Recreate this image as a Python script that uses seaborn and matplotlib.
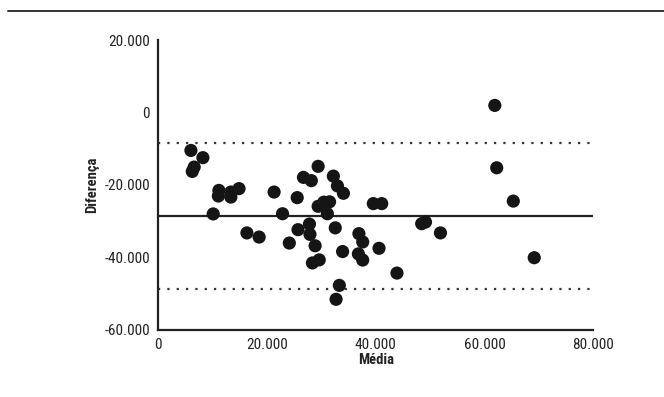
import pandas as pd
import seaborn as sns
import matplotlib
matplotlib.use('Agg')
import matplotlib.pyplot as plt
from matplotlib.lines import Line2D
from matplotlib.ticker import FuncFormatter

# Bland-Altman: mean of the two methods vs difference
media = [6000, 8200, 6600, 6250, 11150, 11050, 13350, 13350, 14850, 21300,
         10100, 16300, 18550, 29400, 26700, 28150, 32200, 32950, 34050, 25550,
         29400, 30450, 31500, 31100, 22850, 39550, 41100, 24100, 25700, 27800,
         27900, 32550, 28850, 33900, 36900, 37600, 36800, 37600, 40600, 28350,
         29600, 43900, 33300, 32700, 48450, 49150, 51900, 61900, 62250, 65300,
         69150]
diferenca = [-10500, -12500, -15100, -16300, -21550, -23100, -22000, -23400, -21050, -22000,
             -28050, -33300, -34450, -14900, -17950, -18850, -17600, -20300, -22350, -23550,
             -25950, -24800, -24700, -28000, -28000, -25200, -25200, -36100, -32400, -30850,
             -33700, -31900, -36850, -38450, -33500, -35800, -39100, -40800, -37550, -41600,
             -40750, -44400, -47800, -51650, -30750, -30300, -33300, 1950, -15300, -24500,
             -40150]

media_dif = -28700
lim_sup = -8400
lim_inf = -48900

df = pd.DataFrame({'Média': media, 'Diferença': diferenca})

sns.set_style('white')
plt.rcParams['font.family'] = ['Liberation Sans Narrow', 'Roboto Condensed', 'DejaVu Sans']

fig = plt.figure(figsize=(6.64, 3.97), dpi=100)
ax = fig.add_axes([0.2384, 0.17, 0.655, 0.729])

ax.axhline(media_dif, color='#222222', lw=1.6, zorder=1)
ax.axhline(lim_sup, color='#333333', lw=1.6, ls=(0, (1, 3.2)), zorder=1)
ax.axhline(lim_inf, color='#333333', lw=1.6, ls=(0, (1, 3.2)), zorder=1)

sns.scatterplot(data=df, x='Média', y='Diferença', ax=ax, s=90,
                color='#151515', edgecolor='none', zorder=3, clip_on=False)

ax.set_xlim(0, 80000)
ax.set_ylim(-60000, 20000)
ax.set_xticks([0, 20000, 40000, 60000, 80000])
ax.set_yticks([-60000, -40000, -20000, 0, 20000])
fmt = FuncFormatter(lambda v, p: f"{int(v):,}".replace(',', '.'))
ax.xaxis.set_major_formatter(fmt)
ax.yaxis.set_major_formatter(fmt)

sns.despine(ax=ax)
for s in ['left', 'bottom']:
    ax.spines[s].set_linewidth(1.6)
    ax.spines[s].set_color('#222222')
ax.tick_params(axis='both', direction='out', length=4, width=1.5, color='#222222',
               labelsize=11, labelcolor='#222222', pad=2)

ax.set_xlabel('Média', fontsize=10.5, fontweight='bold', color='#222222', labelpad=1)
ax.set_ylabel('Diferença', fontsize=10.5, fontweight='bold', color='#222222', labelpad=4)

fig.add_artist(Line2D([0.012, 1.0], [0.972, 0.972], color='#333333', lw=1.4))

fig.savefig('out.png', dpi=100, facecolor='white')
